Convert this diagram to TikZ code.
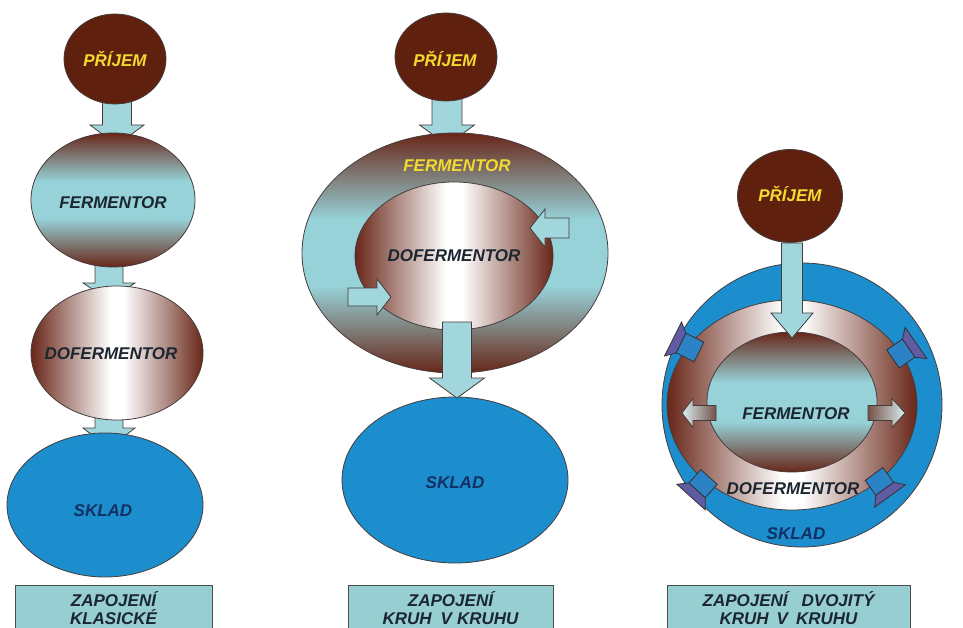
\documentclass[tikz,border=0pt]{standalone}
\usepackage{fontspec}
\setmainfont{Liberation Sans}
\usetikzlibrary{shapes.geometric,calc}
\pgfdeclarelayer{background}
\pgfsetlayers{background,main}
\definecolor{brownc}{RGB}{95,32,14}
\definecolor{shbrown}{RGB}{104,38,24}
\definecolor{cyanc}{RGB}{150,210,216}
\definecolor{arrc}{RGB}{160,214,220}
\definecolor{bluec}{RGB}{28,142,206}
\definecolor{yellc}{RGB}{242,218,48}
\definecolor{txtc}{RGB}{28,38,48}
\definecolor{sktxt}{RGB}{18,48,100}
\definecolor{edgec}{RGB}{70,60,60}
\definecolor{boxc}{RGB}{150,206,210}
\definecolor{purpc}{RGB}{125,70,145}
\pgfdeclareverticalshading{vferm}{100bp}{color(0bp)=(shbrown); color(25bp)=(shbrown); color(43bp)=(cyanc); color(57bp)=(cyanc); color(75bp)=(shbrown); color(100bp)=(shbrown)}
\pgfdeclarehorizontalshading{hdof}{100bp}{color(0bp)=(shbrown); color(25bp)=(shbrown); color(48bp)=(white); color(52bp)=(white); color(75bp)=(shbrown); color(100bp)=(shbrown)}
\newcommand\lblfont{\fontsize{17}{18}\selectfont\bfseries\itshape}
% block arrow: [style]{from}{to}{shaft half width}{head half width}{head length}
\newcommand\blockarr[6][]{%
  \path[#1] let \p1=(#2), \p2=(#3), \n1={atan2(\y2-\y1,\x2-\x1)} in
    ($(\p1)+({\n1+90}:#4pt)$) -- ($(\p2)+({\n1+180}:#6pt)+({\n1+90}:#4pt)$)
    -- ($(\p2)+({\n1+180}:#6pt)+({\n1+90}:#5pt)$) -- (\p2)
    -- ($(\p2)+({\n1+180}:#6pt)+({\n1-90}:#5pt)$) -- ($(\p2)+({\n1+180}:#6pt)+({\n1-90}:#4pt)$)
    -- ($(\p1)+({\n1-90}:#4pt)$) -- cycle;}
% flared arrow: {from}{to}{shaft half width}{end half width}{flare length}
\newcommand\flarearr[5]{%
  \path[flare] let \p1=(#1), \p2=(#2), \n1={atan2(\y2-\y1,\x2-\x1)} in
    ($(\p2)+({\n1+180}:#5pt)+({\n1+90}:#3pt)$) -- ($(\p2)+({\n1+90}:#4pt)$)
    -- ($(\p2)+({\n1-90}:#4pt)$) -- ($(\p2)+({\n1+180}:#5pt)+({\n1-90}:#3pt)$) -- cycle;
  \path[fshaft] let \p1=(#1), \p2=(#2), \n1={atan2(\y2-\y1,\x2-\x1)} in
    ($(\p1)+({\n1+90}:#3pt)$) -- ($(\p2)+({\n1+180}:#5pt)+({\n1+90}:#3pt)$)
    -- ($(\p2)+({\n1+180}:#5pt)+({\n1-90}:#3pt)$) -- ($(\p1)+({\n1-90}:#3pt)$) -- cycle;}
\tikzset{
  base/.style={ellipse, inner sep=0pt, draw=edgec, line width=0.8pt},
  pri/.style={base, fill=brownc},
  vgrad/.style={base, shade, shading=vferm},
  hgrad/.style={base, shade, shading=hdof},
  sklad/.style={base, fill=bluec},
  txt/.style={font=\lblfont, text=txtc, inner sep=0pt, text height=12.2pt, text depth=0pt},
  ytxt/.style={txt, text=yellc},
  stxt/.style={txt, text=sktxt},
  lbox/.style={draw=black!70, line width=1pt, fill=boxc, font=\lblfont, text=txtc,
    align=center, inner sep=0pt, anchor=north, minimum height=46pt},
  barr/.style={draw=edgec, line width=0.8pt, fill=arrc},
  flare/.style={draw=edgec!80!black, line width=0.8pt, fill=purpc!70!bluec},
  fshaft/.style={draw=edgec!80!black, line width=0.8pt, fill=bluec!85!purpc},
}
\begin{document}
\begin{tikzpicture}[x=1pt,y=-1pt]
\useasboundingbox (0,0) rectangle (963,628);
\begin{pgfonlayer}{background}
  \fill[white] (0,0) rectangle (963,628);
\end{pgfonlayer}

% ---------- column 1 : klasicke ----------
\coordinate (c1s) at (117,95);  \coordinate (c1e) at (117,145);
\coordinate (c2s) at (109,250); \coordinate (c2e) at (109,300);
\coordinate (c3s) at (109,400); \coordinate (c3e) at (109,448);
\begin{pgfonlayer}{background}
  \blockarr[barr]{c1s}{c1e}{14.5}{27}{20}
  \blockarr[barr]{c2s}{c2e}{14}{26}{17}
  \blockarr[barr]{c3s}{c3e}{14}{26}{20}
\end{pgfonlayer}
\node[pri, minimum width=102pt, minimum height=90pt] (pr1) at (115,59) {};
\node[vgrad, minimum width=164pt, minimum height=134pt] (fe1) at (113,200) {};
\node[hgrad, minimum width=172pt, minimum height=134pt] (do1) at (117,353) {};
\node[sklad, minimum width=196pt, minimum height=144pt] (sk1) at (105,505) {};
\node[ytxt] (t1a) at (115,60) {PŘÍJEM};
\node[txt] (t1b) at (113,202) {FERMENTOR};
\node[txt] (t1c) at (111,353) {DOFERMENTOR};
\node[stxt] (t1d) at (103,510) {SKLAD};

% ---------- column 2 : kruh v kruhu ----------
\coordinate (c4s) at (447,90);  \coordinate (c4e) at (447,145);
\begin{pgfonlayer}{background}
  \blockarr[barr]{c4s}{c4e}{15}{27.5}{20}
\end{pgfonlayer}
\node[pri, minimum width=102pt, minimum height=88pt] (pr2) at (446,57) {};
\node[vgrad, minimum width=306pt, minimum height=240pt] (fe2) at (455,253) {};
\node[hgrad, minimum width=198pt, minimum height=148pt] (do2) at (454,256) {};
\node[sklad, minimum width=226pt, minimum height=166pt] (sk2) at (455,480) {};
\coordinate (c5s) at (569,228); \coordinate (c5e) at (530,228);
\coordinate (c6s) at (348,297); \coordinate (c6e) at (391,297);
\coordinate (c7s) at (457,322); \coordinate (c7e) at (457,398);
\blockarr[barr]{c5s}{c5e}{10}{19}{15}
\blockarr[barr]{c6s}{c6e}{9}{18}{14}
\blockarr[barr]{c7s}{c7e}{14.5}{27.5}{20}
\node[ytxt] (t2a) at (445,60) {PŘÍJEM};
\node[ytxt] (t2b) at (457,165) {FERMENTOR};
\node[txt] (t2c) at (454,255) {DOFERMENTOR};
\node[stxt] (t2d) at (455,482) {SKLAD};

% ---------- column 3 : dvojity kruh v kruhu ----------
\node[sklad, minimum width=280pt, minimum height=284pt] (sk3) at (802,405) {};
\node[hgrad, minimum width=250pt, minimum height=210pt] (do3) at (792,405) {};
\node[vgrad, minimum width=170pt, minimum height=140pt] (fe3) at (792,402) {};
\node[pri, minimum width=105pt, minimum height=93pt] (pr3) at (790,196) {};
\coordinate (c8s) at (792,243); \coordinate (c8e) at (792,338);
\coordinate (c9s) at (716,413); \coordinate (c9e) at (682,413);
\coordinate (c10s) at (868,413); \coordinate (c10e) at (905,413);
\blockarr[barr]{c8s}{c8e}{10.5}{21}{25}
\blockarr[draw=edgec, line width=0.8pt, left color=cyanc!35!white, right color=shbrown!75!cyanc]{c9s}{c9e}{7.5}{14.5}{11}
\blockarr[draw=edgec, line width=0.8pt, left color=shbrown!75!cyanc, right color=cyanc!35!white]{c10s}{c10e}{7.5}{14.5}{13}
\coordinate (d1s) at (699,352); \coordinate (d1e) at (673,339);
\coordinate (d2s) at (893,359); \coordinate (d2e) at (916,343);
\coordinate (d3s) at (709,477); \coordinate (d3e) at (691,497);
\coordinate (d4s) at (874,474); \coordinate (d4e) at (890,496);
\flarearr{d1s}{d1e}{11}{19}{9}
\flarearr{d2s}{d2e}{11}{19}{9}
\flarearr{d3s}{d3e}{11}{19}{9}
\flarearr{d4s}{d4e}{11}{19}{9}
\node[ytxt] (t3a) at (790,195) {PŘÍJEM};
\node[txt] (t3b) at (796,413) {FERMENTOR};
\node[txt] (t3c) at (793,488) {DOFERMENTOR};
\node[stxt] (t3d) at (796,533) {SKLAD};

% ---------- labels ----------
\begin{scope}
\clip (0,0) rectangle (963,628);
\node[lbox, minimum width=197pt] (lb1) at (113.5,585) {ZAPOJENÍ\\KLASICKÉ};
\node[lbox, minimum width=205pt] (lb2) at (450.5,585) {ZAPOJENÍ\\KRUH\hspace{9pt}V\hspace{5pt}KRUHU};
\node[lbox, minimum width=243pt] (lb3) at (788.5,585) {ZAPOJENÍ\hspace{14pt}DVOJITÝ\\KRUH\hspace{8pt}V\hspace{8pt}KRUHU};
\end{scope}
\end{tikzpicture}
\end{document}
